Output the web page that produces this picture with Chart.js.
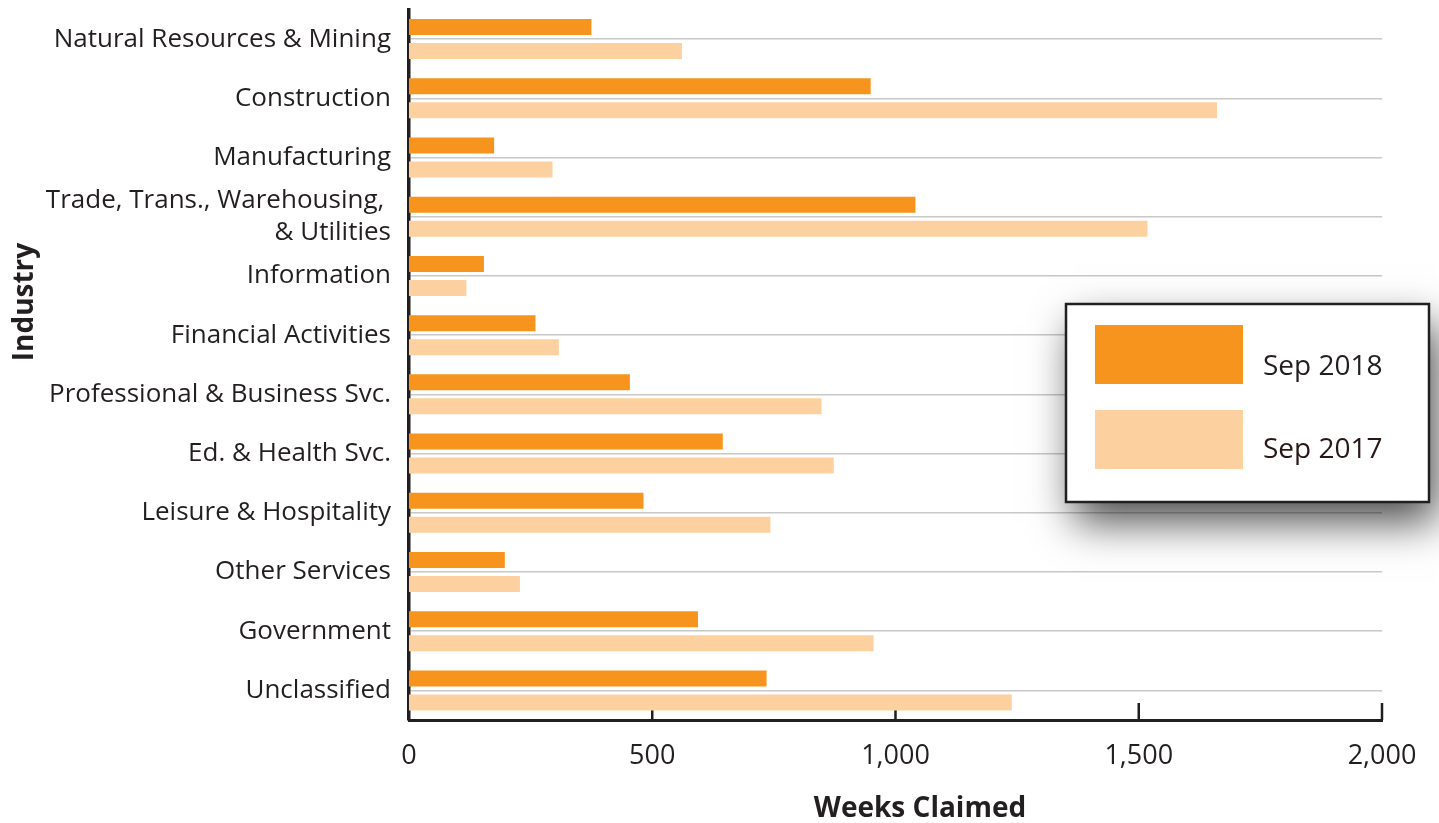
<!DOCTYPE html>
<html>
<head>
<meta charset="utf-8">
<script src="https://cdn.jsdelivr.net/npm/chart.js@4.4.1/dist/chart.umd.min.js"></script>
<style>
  html, body { margin: 0; padding: 0; background: #ffffff; }
  #wrap { position: relative; width: 1439px; height: 823px; }
  canvas { display: block; }
</style>
</head>
<body>
<div id="wrap"><canvas id="chart" width="1439" height="823"></canvas></div>
<script>
// ---- data ----
const categories = [
  "Natural Resources & Mining",
  "Construction",
  "Manufacturing",
  ["Trade, Trans., Warehousing, ", "& Utilities"],
  "Information",
  "Financial Activities",
  "Professional & Business Svc.",
  "Ed. & Health Svc.",
  "Leisure & Hospitality",
  "Other Services",
  "Government",
  "Unclassified"
];
const sep2018 = [375, 949, 175, 1041, 154, 260, 454, 645, 482, 197, 594, 735];
const sep2017 = [561, 1661, 295, 1518, 118, 308, 848, 873, 743, 228, 955, 1239];
const seriesNames = ["Sep 2018", "Sep 2017"];
const xTickValues = [0, 500, 1000, 1500, 2000];
const xTickLabels = ["0", "500", "1,000", "1,500", "2,000"];
const xAxisTitle = "Weeks Claimed";
const yAxisTitle = "Industry";

// ---- styles ----
const ORANGE = "#F7941E";
const LIGHT = "#FDD09F";
const TEXT = "#231F20";
const GRID = "#C8C8C8";
const FONT = "'Open Sans', 'Noto Sans', sans-serif";

const extras = {
  id: "extras",
  beforeDatasetsDraw(chart) {
    const ctx = chart.ctx;
    const xs = chart.scales.x;
    const bottom = chart.chartArea.bottom;
    ctx.save();
    ctx.strokeStyle = TEXT;
    ctx.lineWidth = 2.5;
    xTickValues.forEach(v => {
      if (v === 0) return;
      const px = xs.getPixelForValue(v);
      ctx.beginPath();
      ctx.moveTo(px, bottom - 17);
      ctx.lineTo(px, bottom);
      ctx.stroke();
    });
    ctx.restore();
  },
  afterDraw(chart) {
    const ctx = chart.ctx;
    ctx.save();
    // axis titles
    ctx.fillStyle = TEXT;
    ctx.font = "bold 28px " + FONT;
    ctx.textAlign = "center";
    ctx.textBaseline = "alphabetic";
    ctx.fillText(xAxisTitle, 920, 817);
    ctx.save();
    ctx.translate(33, 302);
    ctx.rotate(-Math.PI / 2);
    ctx.fillText(yAxisTitle, 0, 0);
    ctx.restore();

    // legend box with shadow
    const bx = 1066, by = 304, bw = 363, bh = 198;
    ctx.save();
    ctx.shadowColor = "rgba(0,0,0,0.7)";
    ctx.shadowBlur = 40;
    ctx.shadowOffsetX = 8;
    ctx.shadowOffsetY = 20;
    ctx.fillStyle = "#ffffff";
    ctx.fillRect(bx, by, bw, bh);
    ctx.restore();
    ctx.strokeStyle = TEXT;
    ctx.lineWidth = 2.5;
    ctx.strokeRect(bx, by, bw, bh);

    const ds = chart.data.datasets;
    const rows = [{y: 325, base: 375}, {y: 410, base: 458}];
    ds.forEach((d, i) => {
      ctx.fillStyle = d.backgroundColor;
      ctx.fillRect(1095, rows[i].y, 148, 59);
      ctx.fillStyle = i === 0 ? TEXT : "#2A1818";
      ctx.font = "28px " + FONT;
      ctx.textAlign = "left";
      ctx.textBaseline = "alphabetic";
      ctx.fillText(d.label, 1263, rows[i].base);
    });
    ctx.restore();
  }
};

new Chart(document.getElementById("chart"), {
  type: "bar",
  data: {
    labels: categories,
    datasets: [
      { label: seriesNames[0], data: sep2018, backgroundColor: ORANGE,
        categoryPercentage: 0.81, barPercentage: 0.667 },
      { label: seriesNames[1], data: sep2017, backgroundColor: LIGHT,
        categoryPercentage: 0.81, barPercentage: 0.667 }
    ]
  },
  options: {
    indexAxis: "y",
    responsive: false,
    animation: false,
    devicePixelRatio: 1,
    layout: { padding: { top: 9.5, right: 57, left: 0, bottom: 0 } },
    plugins: { legend: { display: false }, tooltip: { enabled: false } },
    scales: {
      x: {
        type: "linear",
        position: "bottom",
        min: 0,
        max: 2000,
        afterBuildTicks: s => { s.ticks = xTickValues.map(v => ({ value: v })); },
        ticks: {
          callback: v => xTickLabels[xTickValues.indexOf(v)],
          font: { family: FONT, size: 27 },
          color: TEXT,
          padding: 20,
          maxRotation: 0
        },
        grid: { display: false, drawTicks: false },
        border: { display: true, color: TEXT, width: 3 },
        afterFit: s => { s.height = 103; }
      },
      y: {
        type: "category",
        offset: true,
        z: 1,
        grid: { color: GRID, lineWidth: 1.6, offset: false, drawTicks: false },
        border: { display: true, color: TEXT, width: 3.5 },
        ticks: {
          font: { family: FONT, size: 26, lineHeight: 1.25 },
          color: TEXT,
          padding: 18,
          autoSkip: false
        },
        afterFit: s => { s.width = 409; s.paddingTop = 0; s.paddingBottom = 0; }
      }
    }
  },
  plugins: [extras]
});
</script>
</body>
</html>
